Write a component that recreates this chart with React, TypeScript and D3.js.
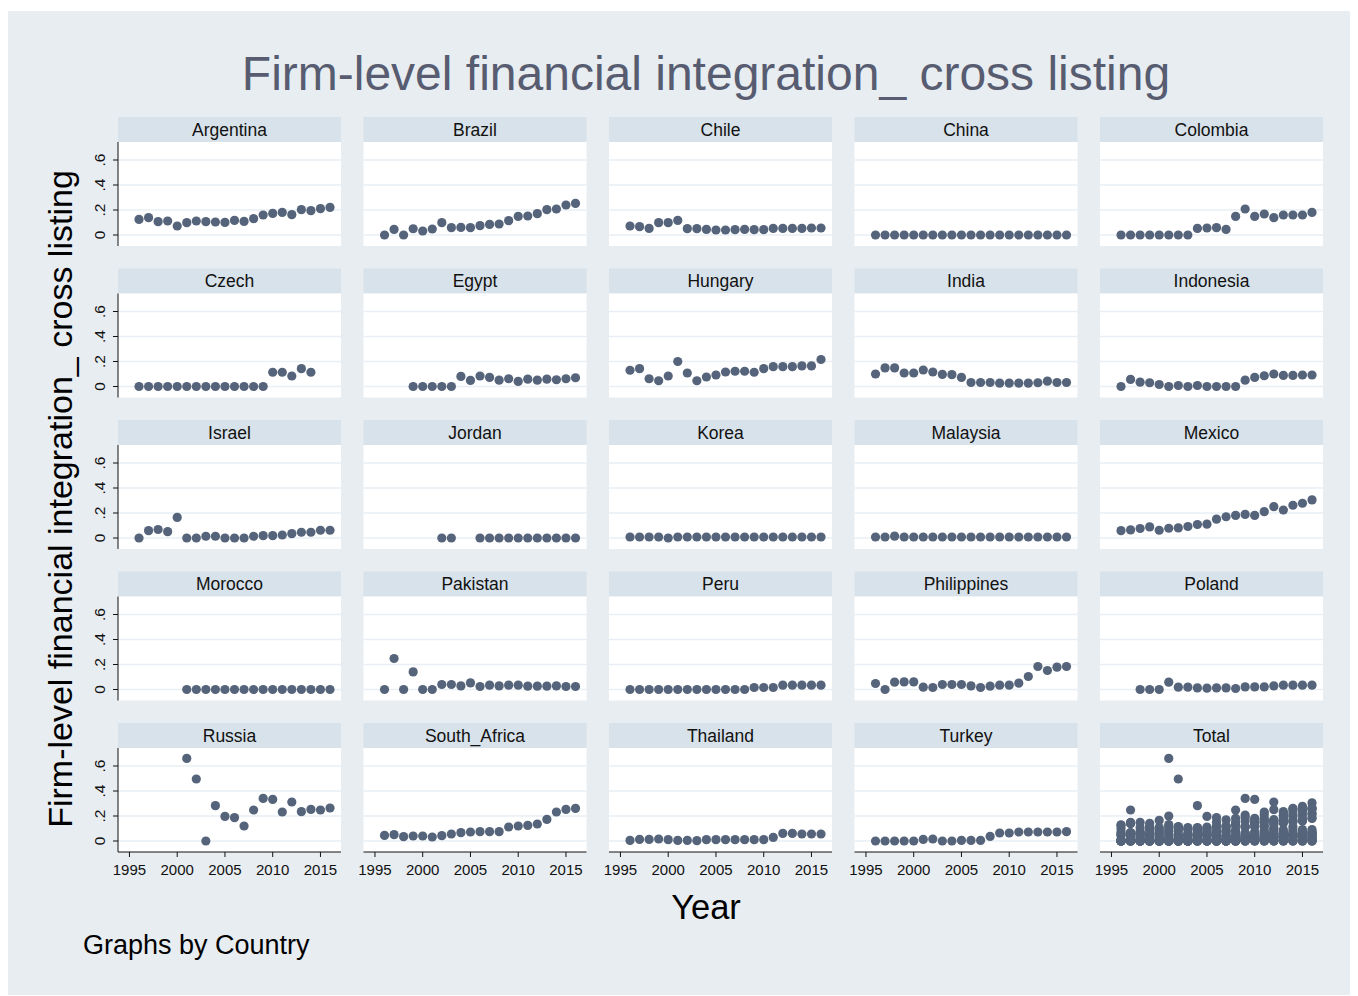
import React from 'react';
import * as d3 from 'd3';

// years on the x axis, 1996..2016
const years = [1996, 1997, 1998, 1999, 2000, 2001, 2002, 2003, 2004, 2005, 2006,
  2007, 2008, 2009, 2010, 2011, 2012, 2013, 2014, 2015, 2016];

// one value per year, null = no observation
const argentina = [0.125, 0.139, 0.107, 0.112, 0.072, 0.099, 0.112, 0.107, 0.104, 0.101, 0.117,
  0.109, 0.131, 0.16, 0.173, 0.181, 0.163, 0.203, 0.195, 0.211, 0.221];
const brazil = [0, 0.045, 0, 0.05, 0.032, 0.048, 0.099, 0.059, 0.061, 0.059, 0.075,
  0.085, 0.088, 0.115, 0.149, 0.152, 0.171, 0.203, 0.208, 0.24, 0.253];
const chile = [0.072, 0.067, 0.053, 0.099, 0.099, 0.117, 0.051, 0.051, 0.045, 0.04, 0.04,
  0.043, 0.045, 0.043, 0.043, 0.053, 0.053, 0.053, 0.053, 0.056, 0.056];
const china = [0, 0, 0, 0, 0, 0, 0, 0, 0, 0, 0, 0, 0, 0, 0, 0, 0, 0, 0, 0, 0];
const colombia = [0, 0, 0, 0, 0, 0, 0, 0, 0.053, 0.056, 0.059,
  0.045, 0.149, 0.208, 0.149, 0.168, 0.139, 0.16, 0.16, 0.16, 0.181];
const czech = [0, 0, 0, 0, 0, 0, 0, 0, 0, 0, 0,
  0, 0, 0, 0.114, 0.114, 0.084, 0.143, 0.114, null, null];
const egypt = [null, null, null, 0, 0, 0, 0, 0, 0.081, 0.049, 0.084,
  0.073, 0.051, 0.062, 0.041, 0.059, 0.051, 0.059, 0.054, 0.062, 0.07];
const hungary = [0.13, 0.143, 0.062, 0.046, 0.084, 0.2, 0.108, 0.046, 0.076, 0.092, 0.116,
  0.122, 0.122, 0.114, 0.143, 0.159, 0.159, 0.159, 0.165, 0.165, 0.216];
const india = [0.1, 0.149, 0.149, 0.108, 0.108, 0.132, 0.116, 0.097, 0.095, 0.073, 0.032,
  0.032, 0.032, 0.027, 0.027, 0.027, 0.027, 0.03, 0.043, 0.032, 0.032];
const indonesia = [0, 0.057, 0.035, 0.03, 0.016, 0, 0.008, 0, 0.008, 0, 0,
  0, 0, 0.051, 0.073, 0.086, 0.1, 0.089, 0.089, 0.092, 0.092];
const israel = [0, 0.059, 0.068, 0.051, 0.165, 0, 0, 0.014, 0.014, 0, 0,
  0, 0.014, 0.019, 0.019, 0.024, 0.035, 0.046, 0.046, 0.062, 0.062];
const jordan = [null, null, null, null, null, null, 0, 0, null, null, 0,
  0, 0, 0, 0, 0, 0, 0, 0, 0, 0];
const korea = [0.008, 0.008, 0.008, 0.008, 0, 0.008, 0.008, 0.008, 0.008, 0.008, 0.008,
  0.008, 0.008, 0.008, 0.008, 0.008, 0.008, 0.008, 0.008, 0.008, 0.008];
const malaysia = [0.008, 0.008, 0.015, 0.008, 0.008, 0.008, 0.008, 0.008, 0.008, 0.008, 0.008,
  0.008, 0.008, 0.008, 0.008, 0.008, 0.008, 0.008, 0.008, 0.008, 0.008];
const mexico = [0.059, 0.065, 0.076, 0.089, 0.062, 0.078, 0.081, 0.092, 0.108, 0.111, 0.151,
  0.17, 0.181, 0.189, 0.181, 0.211, 0.251, 0.224, 0.262, 0.278, 0.305];
const morocco = [null, null, null, null, null, 0, 0, 0, 0, 0, 0,
  0, 0, 0, 0, 0, 0, 0, 0, 0, 0];
const pakistan = [0, 0.248, 0, 0.141, 0, 0, 0.04, 0.04, 0.029, 0.053, 0.024,
  0.035, 0.029, 0.035, 0.035, 0.027, 0.027, 0.027, 0.029, 0.024, 0.024];
const peru = [0, 0, 0, 0, 0, 0, 0, 0, 0, 0, 0,
  0, 0, 0.016, 0.016, 0.016, 0.035, 0.035, 0.035, 0.035, 0.035];
const philippines = [0.048, 0, 0.059, 0.061, 0.061, 0.019, 0.016, 0.04, 0.04, 0.04, 0.029,
  0.016, 0.027, 0.035, 0.035, 0.051, 0.104, 0.184, 0.152, 0.179, 0.184];
const poland = [null, null, 0, 0, 0, 0.059, 0.019, 0.019, 0.013, 0.011, 0.013,
  0.013, 0.008, 0.021, 0.021, 0.021, 0.029, 0.035, 0.035, 0.035, 0.035];
const russia = [null, null, null, null, null, 0.661, 0.496, 0, 0.283, 0.197, 0.187,
  0.12, 0.248, 0.341, 0.333, 0.232, 0.312, 0.235, 0.253, 0.248, 0.264];
const southAfrica = [0.045, 0.051, 0.035, 0.04, 0.04, 0.032, 0.043, 0.056, 0.067, 0.072, 0.075,
  0.075, 0.075, 0.112, 0.12, 0.125, 0.136, 0.173, 0.232, 0.253, 0.261];
const thailand = [0.005, 0.013, 0.013, 0.016, 0.011, 0.005, 0.005, 0.003, 0.011, 0.011, 0.011,
  0.011, 0.011, 0.011, 0.011, 0.029, 0.061, 0.061, 0.056, 0.056, 0.056];
const turkey = [0, 0, 0, 0, 0, 0.013, 0.016, 0, 0, 0.005, 0.005,
  0.005, 0.037, 0.064, 0.064, 0.072, 0.072, 0.072, 0.072, 0.072, 0.075];

const countryNames = ['Argentina', 'Brazil', 'Chile', 'China', 'Colombia',
  'Czech', 'Egypt', 'Hungary', 'India', 'Indonesia',
  'Israel', 'Jordan', 'Korea', 'Malaysia', 'Mexico',
  'Morocco', 'Pakistan', 'Peru', 'Philippines', 'Poland',
  'Russia', 'South_Africa', 'Thailand', 'Turkey'];
const countryValues = [argentina, brazil, chile, china, colombia,
  czech, egypt, hungary, india, indonesia,
  israel, jordan, korea, malaysia, mexico,
  morocco, pakistan, peru, philippines, poland,
  russia, southAfrica, thailand, turkey];

const yTicks = [0, 0.2, 0.4, 0.6];
const yTickLabels = ['0', '.2', '.4', '.6'];
const xTicks = [1995, 2000, 2005, 2010, 2015];

const FONT = 'Liberation Sans, Arial, Helvetica, sans-serif';
const BG = '#e8edf1';
const STRIP = '#d8e2ea';
const GRID = '#e9eff4';
const MARKER = '#55647a';

export default function App() {
  // layout
  const left = 118, top = 117;
  const panelW = 223, stripH = 25, plotH = 104;
  const stepX = 245.5, stepY = 151.5;

  const x = d3.scaleLinear().domain([1993.8, 2017.15]).range([0, panelW]);
  const y = d3.scaleLinear().domain([-0.088, 0.744]).range([plotH, 0]);

  // points per panel; the Total panel pools every country
  type Pt = { year: number; v: number };
  const panels: { name: string; pts: Pt[] }[] = countryNames.map((name, i) => ({
    name,
    pts: years
      .map((yr, j) => ({ year: yr, v: countryValues[i][j] as number | null }))
      .filter(p => p.v !== null) as Pt[],
  }));
  panels.push({ name: 'Total', pts: panels.flatMap(p => p.pts) });

  const title = 'Firm-level financial integration_ cross listing';

  return (
    <svg width={1358} height={996}
         style={{ position: 'absolute', left: 0, top: 0, fontFamily: FONT }}>
      <rect x={8} y={11} width={1342} height={984} fill={BG} />

      <text x={706} y={90} textAnchor="middle" fontSize={48} fill="#575c70">{title}</text>

      {panels.map((p, k) => {
        const col = k % 5, row = Math.floor(k / 5);
        const px = left + col * stepX;
        const py = top + row * stepY;
        const plotTop = py + stripH;
        return (
          <g key={p.name}>
            <rect x={px} y={py} width={panelW} height={stripH} fill={STRIP} />
            <text x={px + panelW / 2} y={py + stripH / 2 + 6} textAnchor="middle"
                  fontSize={17.5} fill="#111">{p.name}</text>
            <g transform={`translate(${px},${plotTop})`}>
              <rect x={0} y={0} width={panelW} height={plotH} fill="#fff" />
              {yTicks.map(t => (
                <line key={t} x1={0} x2={panelW} y1={y(t)} y2={y(t)} stroke={GRID} strokeWidth={1.5} />
              ))}
              {p.pts.map((d, i) => (
                <circle key={i} cx={x(d.year)} cy={y(d.v)} r={4.6} fill={MARKER} />
              ))}
              {col === 0 && (
                <g>
                  <line x1={0} x2={0} y1={0} y2={plotH} stroke="#111" strokeWidth={1} />
                  {yTicks.map((t, i) => (
                    <g key={t} transform={`translate(0,${y(t)})`}>
                      <line x1={-5} x2={0} stroke="#111" />
                      <text transform="translate(-13,0) rotate(-90)" textAnchor="middle"
                            fontSize={15.5} fill="#111">{yTickLabels[i]}</text>
                    </g>
                  ))}
                </g>
              )}
              {row === 4 && (
                <g transform={`translate(0,${plotH})`}>
                  <line x1={0} x2={panelW} stroke="#111" strokeWidth={1} />
                  {xTicks.map(t => (
                    <g key={t} transform={`translate(${x(t)},0)`}>
                      <line y1={0} y2={5} stroke="#111" />
                      <text y={23} textAnchor="middle" fontSize={15} fill="#111">{t}</text>
                    </g>
                  ))}
                </g>
              )}
            </g>
          </g>
        );
      })}

      <text transform="translate(72,499) rotate(-90)" textAnchor="middle" fontSize={34} fill="#000">{title}</text>
      <text x={706} y={919} textAnchor="middle" fontSize={34.5} fill="#000">Year</text>
      <text x={83} y={954} fontSize={27} fill="#000">Graphs by Country</text>
    </svg>
  );
}
